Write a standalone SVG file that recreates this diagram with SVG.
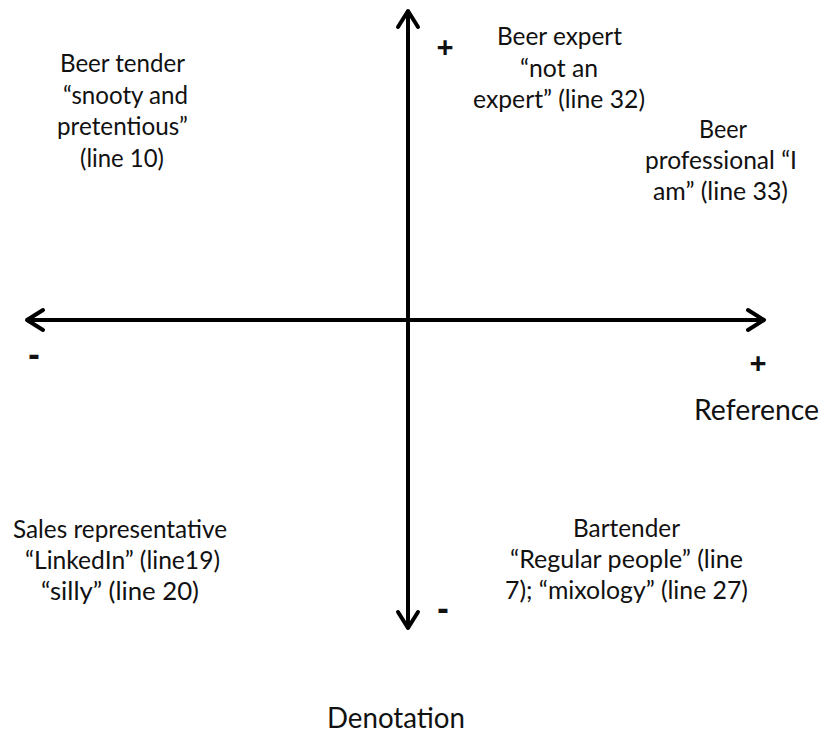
<svg xmlns="http://www.w3.org/2000/svg" width="825" height="736" viewBox="0 0 825 736">
  <style>
    .lbl { font-family: Lato, "Open Sans", "Liberation Sans", sans-serif; font-size: 25px; fill: #111; }
    .title { font-family: Lato, "Open Sans", "Liberation Sans", sans-serif; font-size: 29px; fill: #111; }
    .sign { font-family: "Open Sans", "Liberation Sans", sans-serif; font-weight: bold; fill: #111; text-anchor: middle; }
    .axis { fill: none; stroke: #000; stroke-width: 4; }
  </style>
  <defs>
    <marker id="chev" viewBox="-22 -13 26 26" refX="0" refY="0" markerWidth="26" markerHeight="26" markerUnits="userSpaceOnUse" orient="auto-start-reverse">
      <path d="M-17,-10 L-1,0 L-17,10" fill="none" stroke="#000" stroke-width="4" stroke-linejoin="round" stroke-linecap="round"/>
    </marker>
  </defs>
  <rect width="825" height="736" fill="#fff"/>

  <!-- axes -->
  <g id="connectors">
    <path class="axis" d="M26,320 L765,320" marker-start="url(#chev)" marker-end="url(#chev)"/>
    <path class="axis" d="M408,10 L408,629" marker-start="url(#chev)" marker-end="url(#chev)"/>
  </g>

  <!-- axis signs and titles -->
  <g id="axis-labels">
    <text class="sign" x="445" y="58" font-size="30">+</text>
    <text class="sign" x="758" y="374" font-size="30">+</text>
    <text class="sign" x="34" y="366" font-size="34">-</text>
    <text class="sign" x="443" y="620" font-size="34">-</text>
    <text class="title" x="694" y="420" textLength="125" lengthAdjust="spacingAndGlyphs">Reference</text>
    <text class="title" x="327" y="728" textLength="138" lengthAdjust="spacingAndGlyphs">Denotation</text>
  </g>

  <g id="beer-tender">
    <text class="lbl" x="60" y="72" textLength="125" lengthAdjust="spacingAndGlyphs">Beer tender</text>
    <text class="lbl" x="63" y="103.5" textLength="125" lengthAdjust="spacingAndGlyphs">“snooty and</text>
    <text class="lbl" x="57" y="135" textLength="131" lengthAdjust="spacingAndGlyphs">pretentious”</text>
    <text class="lbl" x="80" y="166.5" textLength="84" lengthAdjust="spacingAndGlyphs">(line 10)</text>
  </g>

  <g id="beer-expert">
    <text class="lbl" x="497" y="45" textLength="125" lengthAdjust="spacingAndGlyphs">Beer expert</text>
    <text class="lbl" x="520" y="76.5" textLength="78" lengthAdjust="spacingAndGlyphs">“not an</text>
    <text class="lbl" x="473" y="108" textLength="172" lengthAdjust="spacingAndGlyphs">expert” (line 32)</text>
  </g>

  <g id="beer-professional">
    <text class="lbl" x="699" y="138" textLength="48" lengthAdjust="spacingAndGlyphs">Beer</text>
    <text class="lbl" x="645" y="169" textLength="152" lengthAdjust="spacingAndGlyphs">professional “I</text>
    <text class="lbl" x="653" y="200" textLength="135" lengthAdjust="spacingAndGlyphs">am” (line 33)</text>
  </g>

  <g id="sales-representative">
    <text class="lbl" x="13" y="538" textLength="214" lengthAdjust="spacingAndGlyphs">Sales representative</text>
    <text class="lbl" x="25" y="569" textLength="195" lengthAdjust="spacingAndGlyphs">“LinkedIn” (line19)</text>
    <text class="lbl" x="41" y="600" textLength="158" lengthAdjust="spacingAndGlyphs">“silly” (line 20)</text>
  </g>

  <g id="bartender">
    <text class="lbl" x="573" y="537" textLength="107" lengthAdjust="spacingAndGlyphs">Bartender</text>
    <text class="lbl" x="510" y="568" textLength="233" lengthAdjust="spacingAndGlyphs">“Regular people” (line</text>
    <text class="lbl" x="505" y="599" textLength="243" lengthAdjust="spacingAndGlyphs">7); “mixology” (line 27)</text>
  </g>
</svg>
